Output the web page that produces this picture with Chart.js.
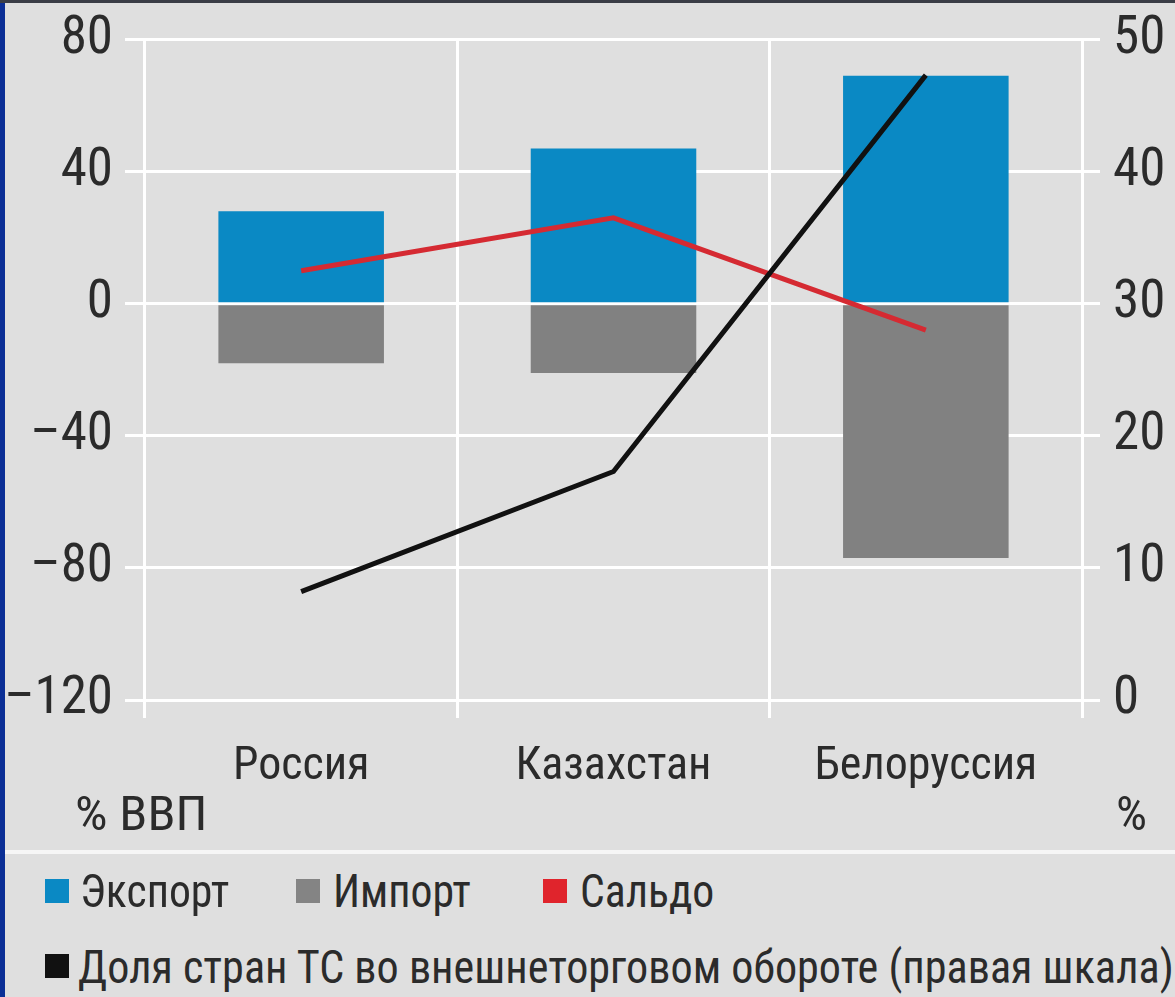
<!DOCTYPE html>
<html>
<head>
<meta charset="utf-8">
<script src="https://cdn.jsdelivr.net/npm/chart.js@4/dist/chart.umd.min.js"></script>
<style>
  body { margin: 0; background: #0b2f96; width: 1175px; height: 997px; overflow: hidden; position: relative; font-family: "Roboto Condensed", sans-serif; color: #2b2b2b; }
  #topline { position: absolute; left: 0; top: 0; width: 1175px; height: 3px; background: #3a3d46; }
  #panel { position: absolute; left: 5px; top: 3px; width: 1170px; height: 994px; background: #dfdfdf; }
  #sep { position: absolute; left: 5px; top: 850px; width: 1170px; height: 4px; background: #f6f6f6; }
  canvas { position: absolute; left: 0; top: 0; }
  .unit { position: absolute; font-size: 49px; line-height: 1; }
  .leg { position: absolute; font-size: 46px; line-height: 1; white-space: nowrap; transform: scaleX(0.95); transform-origin: left top; }
  .sw { position: absolute; width: 24px; height: 24px; }
</style>
</head>
<body>
<div id="topline"></div>
<div id="panel"></div>
<div id="sep"></div>
<canvas id="chart" width="1175" height="850"></canvas>

<div class="unit" style="left:75px; top:789px; transform:scaleX(1.05); transform-origin:left top;">% ВВП</div>
<div class="unit" style="left:1116px; top:789px;">%</div>

<div class="sw" style="left:45px; top:879px; background:#0a89c4;"></div>
<div class="leg" style="left:80px; top:868px;">Экспорт</div>
<div class="sw" style="left:296px; top:879px; background:#848484;"></div>
<div class="leg" style="left:333px; top:868px;">Импорт</div>
<div class="sw" style="left:543px; top:879px; background:#e0242c;"></div>
<div class="leg" style="left:580px; top:868px;">Сальдо</div>
<div class="sw" style="left:45px; top:954px; background:#111111;"></div>
<div class="leg" style="left:78px; top:944px; transform:scaleX(0.96);">Доля стран ТС во внешнеторговом обороте (правая шкала)</div>

<script>
const countries = ["Россия", "Казахстан", "Белоруссия"];
const exportShare = [28, 47, 69];
const importShare = [-18, -21, -77];
const balance = [10, 26, -8];
const tcShare = [8.2, 17.3, 47.3];

const fontName = "'Roboto Condensed', sans-serif";
const textColor = "#2b2b2b";

const chart = new Chart(document.getElementById("chart"), {
  data: {
    labels: countries,
    datasets: [
      {
        type: "line",
        label: "Доля стран ТС",
        data: tcShare,
        yAxisID: "y1",
        borderColor: "#111111",
        borderWidth: 5,
        pointRadius: 0,
        tension: 0,
        order: 0,
      },
      {
        type: "line",
        label: "Сальдо",
        data: balance,
        yAxisID: "y",
        stack: "saldo",
        borderColor: "#d52a32",
        borderWidth: 5,
        pointRadius: 0,
        tension: 0,
        order: 1,
      },
      {
        type: "bar",
        label: "Экспорт",
        data: exportShare,
        yAxisID: "y",
        stack: "trade",
        backgroundColor: "#0a89c4",
        barPercentage: 0.53,
        categoryPercentage: 1,
        order: 2,
      },
      {
        type: "bar",
        label: "Импорт",
        data: importShare,
        yAxisID: "y",
        stack: "trade",
        backgroundColor: "#818181",
        barPercentage: 0.53,
        categoryPercentage: 1,
        order: 2,
      },
    ],
  },
  options: {
    responsive: false,
    devicePixelRatio: 1,
    animation: false,
    layout: { padding: { top: 38, left: 0, right: 0, bottom: 0 } },
    plugins: {
      legend: { display: false },
      tooltip: { enabled: false },
    },
    scales: {
      x: {
        stacked: true,
        offset: true,
        grid: {
          offset: true,
          color: "#ffffff",
          lineWidth: 3,
          drawTicks: true,
          tickLength: 18,
        },
        border: { display: false },
        ticks: {
          color: textColor,
          font: { family: fontName, size: 46, lineHeight: 1 },
          padding: 26,
        },
        afterFit: (scale) => { scale.height = 150; },
      },
      y: {
        position: "left",
        stacked: true,
        min: -120,
        max: 80,
        grid: {
          color: "#ffffff",
          lineWidth: 3,
          drawTicks: true,
          tickLength: 20,
        },
        border: { display: false },
        ticks: {
          stepSize: 40,
          color: textColor,
          padding: 12,
          font: { family: fontName, size: 53, lineHeight: 1 },
          callback: (v) => (v < 0 ? "–" + Math.abs(v) : String(v)),
        },
        afterFit: (scale) => { scale.width = 145; },
      },
      y1: {
        position: "right",
        min: 0,
        max: 50,
        grid: {
          drawOnChartArea: false,
          color: "#ffffff",
          lineWidth: 3,
          drawTicks: true,
          tickLength: 18,
        },
        border: { display: false },
        ticks: {
          stepSize: 10,
          color: textColor,
          padding: 13,
          font: { family: fontName, size: 53, lineHeight: 1 },
        },
        afterFit: (scale) => { scale.width = 93; },
      },
    },
  },
});
</script>
</body>
</html>
